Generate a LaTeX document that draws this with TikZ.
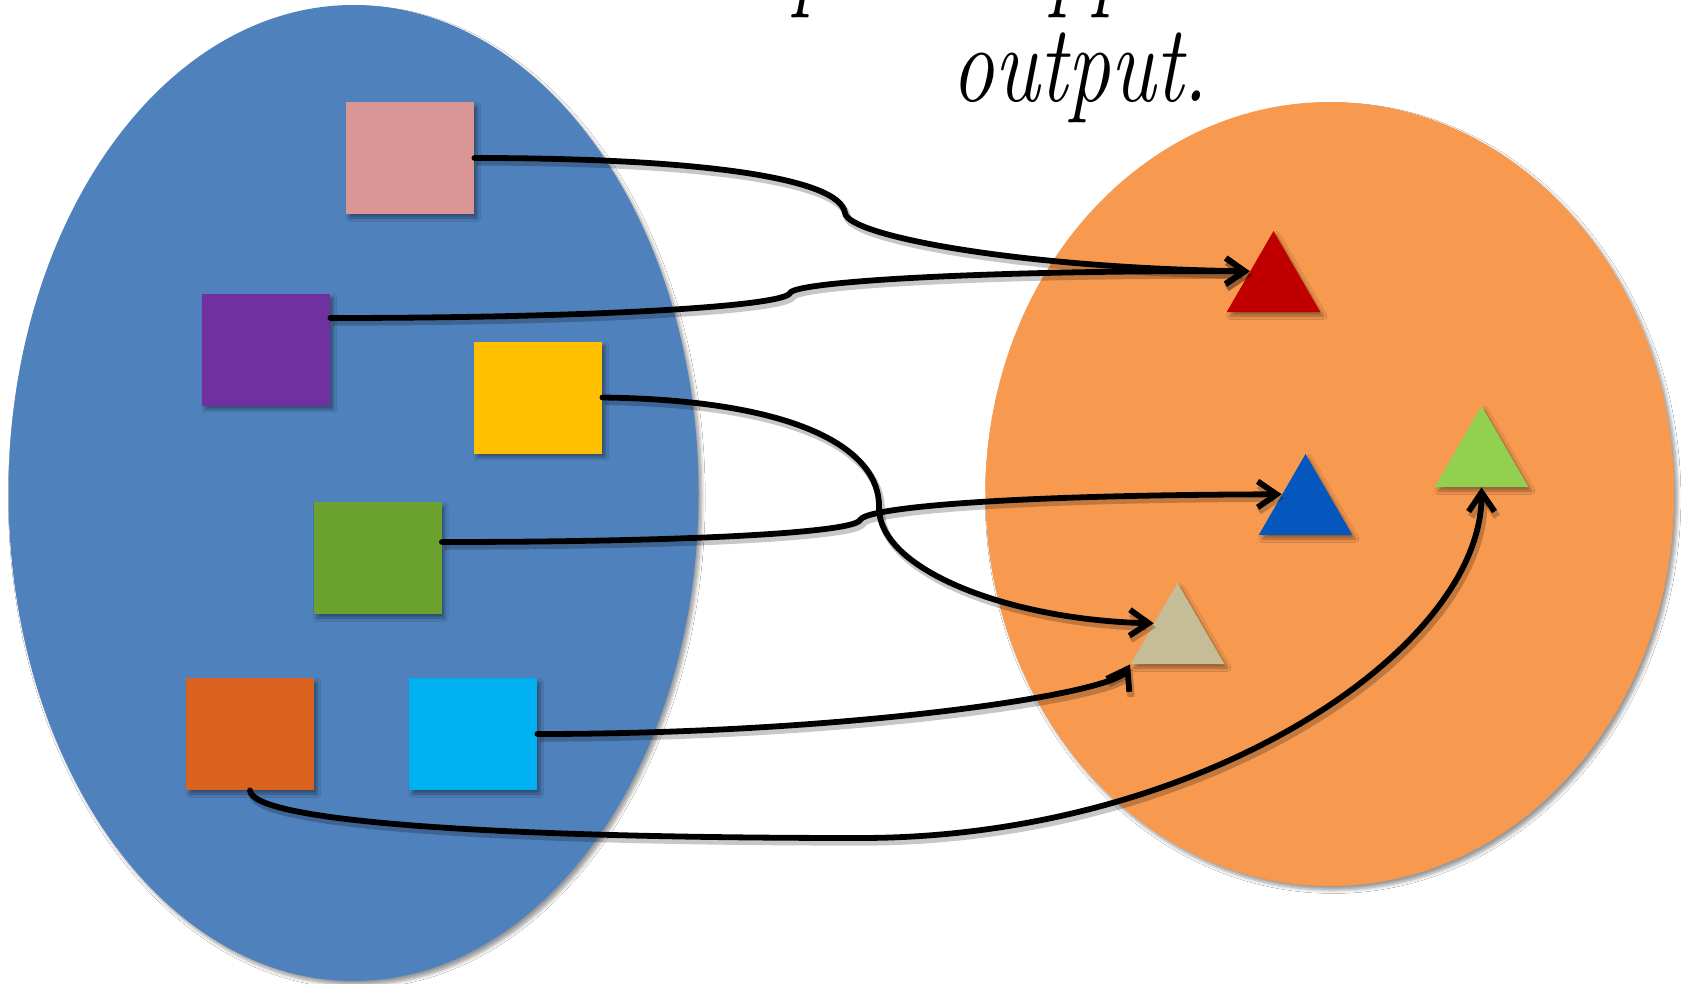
\documentclass[tikz,border=0pt]{standalone}
\usepackage{fontspec}
\usepackage{graphicx}
\usetikzlibrary{shapes.geometric,shadows.blur,arrows.meta}
\definecolor{ellblue}{HTML}{4F81BD}
\definecolor{ellorange}{HTML}{F79A50}
\definecolor{sqpink}{HTML}{D99694}
\definecolor{sqpurple}{HTML}{7030A0}
\definecolor{sqyellow}{HTML}{FFC000}
\definecolor{sqgreen}{HTML}{6BA12F}
\definecolor{sqorange}{HTML}{D9621F}
\definecolor{sqcyan}{HTML}{00B0F0}
\definecolor{trred}{HTML}{C00000}
\definecolor{trblue}{HTML}{0557BD}
\definecolor{trgreen}{HTML}{92D050}
\definecolor{trtan}{HTML}{C4BD97}
\begin{document}
\begin{tikzpicture}[x=0.5pt,y=-0.5pt,
  softshadow/.style={blur shadow={shadow xshift=1.6pt, shadow yshift=-2pt, shadow blur steps=6, shadow opacity=40}},
  ell/.style={ellipse, inner sep=0pt, draw=none, softshadow},
  sq/.style={rectangle, minimum width=64pt, minimum height=56pt, inner sep=0pt, draw=none, softshadow},
  tri/.style={regular polygon, regular polygon sides=3, minimum size=54pt, inner sep=0pt, draw=none, softshadow},
  conn/.style={line width=2.9pt, line cap=round, line join=round, -{Straight Barb[length=9.5pt,width=13pt]},
    preaction={draw=black, opacity=0.22, line width=3.6pt, transform canvas={shift={(1.2pt,-2pt)}}}},
  caption/.style={inner sep=0pt, font=\fontsize{55}{60}\selectfont\itshape}]
\useasboundingbox (0,0) rectangle (1685,984);
\clip (0,0) rectangle (1685,984);
\fill[white] (0,0) rectangle (1685,984);
% sets
\node[ell, fill=ellblue, minimum width=345pt, minimum height=488pt] (In) at (353.5,493) {};
\node[ell, fill=ellorange, minimum width=344.4pt, minimum height=392pt] (Out) at (1329.8,494) {};
% inputs
\node[sq, fill=sqpink] (P) at (410,158) {};
\node[sq, fill=sqpurple] (Pu) at (266,349.5) {};
\node[sq, fill=sqyellow] (Y) at (538,397.5) {};
\node[sq, fill=sqgreen] (Gs) at (377.5,558) {};
\node[sq, fill=sqorange] (O) at (250,734) {};
\node[sq, fill=sqcyan] (C) at (473,734) {};
% outputs
\node[tri, fill=trred] (R) at (1273.5,285) {};
\node[tri, fill=trblue] (B) at (1305.5,508) {};
\node[tri, fill=trgreen] (G) at (1481.5,460) {};
\node[tri, fill=trtan] (T) at (1177.5,637) {};
% caption
\node[caption, anchor=base west] (t1) at (528,-3) {\scalebox{0.78}[1]{each input mapped to another}};
\node[caption, anchor=base] (t2) at (1080,102) {\scalebox{0.78}[1]{output.}};
% mappings
\draw[conn] (P.east) .. controls (700,158) and (840,178) .. (845,213) .. controls (848,236) and (1020,268) .. (R.150);
\draw[conn] ([yshift=15.75pt]Pu.east) .. controls (600,318) and (785,306) .. (790,293) .. controls (795,281) and (1000,270) .. (R.150);
\draw[conn] (Y.east) .. controls (800,400) and (880,450) .. (879,507) .. controls (878,570) and (1010,620) .. (T.150);
\draw[conn] ([yshift=8pt]Gs.east) .. controls (700,542) and (855,532) .. (860,520) .. controls (865,508) and (1000,495) .. (B.150);
\draw[conn] (C.east) .. controls (850,734) and (1113,694) .. (T.corner 2);
\draw[conn] (O.south) .. controls (252,822) and (500,838) .. (860,838) .. controls (1200,838) and (1482,650) .. (G.south);
\end{tikzpicture}
\end{document}
